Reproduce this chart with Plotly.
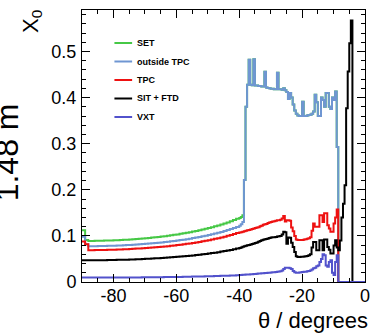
import plotly.graph_objects as go

# Cumulative material budget (in radiation lengths X0) versus polar angle.
# Barrel region: 1-degree bins from -90 to -40; forward region: 0.5-degree bins from -40 to 0.
barrel_edges = list(range(-90, -40))
forward_edges = [-40 + 0.5 * i for i in range(80)]
theta_edges = barrel_edges + forward_edges + [0.0]

vxt_barrel = [0.0095, 0.0095, 0.0095, 0.0095, 0.0095, 0.0095, 0.0096, 0.0096, 0.0096, 0.0096,
              0.0097, 0.0097, 0.0097, 0.0098, 0.0098, 0.0099, 0.0099, 0.0100, 0.0100, 0.0101,
              0.0101, 0.0102, 0.0103, 0.0104, 0.0104, 0.0105, 0.0106, 0.0107, 0.0108, 0.0109,
              0.0110, 0.0111, 0.0113, 0.0114, 0.0115, 0.0117, 0.0118, 0.0120, 0.0121, 0.0123,
              0.0125, 0.0127, 0.0129, 0.0131, 0.0133, 0.0136, 0.0138, 0.0141, 0.0143, 0.0146]
vxt_forward = [0.0150, 0.0152, 0.0155, 0.0157, 0.0160, 0.0162, 0.0165, 0.0167, 0.0170, 0.0173,
               0.0176, 0.0179, 0.0182, 0.0185, 0.0188, 0.0191, 0.0194, 0.0197, 0.0200, 0.0203,
               0.0206, 0.0210, 0.0214, 0.0218, 0.0222, 0.0228, 0.0235, 0.0250, 0.0280, 0.0310,
               0.0310, 0.0310, 0.0300, 0.0280, 0.0240, 0.0210, 0.0200, 0.0200, 0.0205, 0.0210,
               0.0215, 0.0220, 0.0225, 0.0235, 0.0240, 0.0250, 0.0270, 0.0300, 0.0310, 0.0340,
               0.0360, 0.0435, 0.0500, 0.0600, 0.0580, 0.0360, 0.0330, 0.0435, 0.0470, 0.0200,
               0.0150, 0.0435, 0.0580, 0, 0, 0, 0, 0, 0, 0,
               0, 0, 0, 0, 0, 0, 0, 0, 0, 0]

sit_ftd_barrel = [0.0470, 0.0470, 0.0470, 0.0471, 0.0471, 0.0472, 0.0473, 0.0474, 0.0475, 0.0477,
                  0.0478, 0.0480, 0.0481, 0.0483, 0.0485, 0.0488, 0.0490, 0.0493, 0.0496, 0.0499,
                  0.0502, 0.0505, 0.0509, 0.0513, 0.0517, 0.0521, 0.0525, 0.0530, 0.0535, 0.0540,
                  0.0545, 0.0551, 0.0557, 0.0564, 0.0570, 0.0577, 0.0585, 0.0592, 0.0601, 0.0609,
                  0.0618, 0.0628, 0.0637, 0.0648, 0.0659, 0.0671, 0.0683, 0.0696, 0.0709, 0.0724]
sit_ftd_forward = [0.0740, 0.0750, 0.0765, 0.0776, 0.0785, 0.0795, 0.0805, 0.0815, 0.0825, 0.0834,
                   0.0845, 0.0858, 0.0872, 0.0890, 0.0906, 0.0915, 0.0925, 0.0935, 0.0945, 0.0955,
                   0.0965, 0.0968, 0.0972, 0.0978, 0.0985, 0.0990, 0.1000, 0.1030, 0.1090, 0.1080,
                   0.0830, 0.0965, 0.0960, 0.0850, 0.0760, 0.0650, 0.0560, 0.0544, 0.0544, 0.0545,
                   0.0548, 0.0552, 0.0558, 0.0565, 0.0580, 0.0600, 0.0747, 0.0870, 0.0870, 0.0690,
                   0.0690, 0.0906, 0.0906, 0.0690, 0.0920, 0.0920, 0.0760, 0.0700, 0.0617, 0.0617,
                   0.0790, 0.0906, 0.0750, 0.0690, 0.0900, 0.1400, 0.1700, 0.2100, 0.3770, 0.4565,
                   0.5180, 0.5670, 0, 0, 0, 0, 0, 0, 0, 0]

tpc_barrel = [0.088, 0.082, 0.0691, 0.0691, 0.0692, 0.0693, 0.0694, 0.0696, 0.0698, 0.0700,
              0.0702, 0.0704, 0.0707, 0.0710, 0.0713, 0.0716, 0.0720, 0.0724, 0.0728, 0.0732,
              0.0737, 0.0742, 0.0747, 0.0752, 0.0758, 0.0765, 0.0771, 0.0778, 0.0785, 0.0793,
              0.0801, 0.0809, 0.0818, 0.0827, 0.0837, 0.0848, 0.0858, 0.0870, 0.0882, 0.0894,
              0.0907, 0.0921, 0.0936, 0.0951, 0.0967, 0.0984, 0.1002, 0.1021, 0.1041, 0.1062]
tpc_forward = [0.1075, 0.108, 0.109, 0.110, 0.111, 0.112, 0.113, 0.114, 0.115, 0.116,
               0.117, 0.118, 0.119, 0.121, 0.122, 0.124, 0.125, 0.126, 0.128, 0.129,
               0.130, 0.131, 0.132, 0.133, 0.134, 0.134, 0.135, 0.138, 0.143, 0.131,
               0.134, 0.134, 0.133, 0.118, 0.110, 0.100, 0.092, 0.091, 0.091, 0.091,
               0.091, 0.092, 0.093, 0.094, 0.095, 0.097, 0.111, 0.127, 0.120, 0.120,
               0.120, 0.145, 0.145, 0.130, 0.149, 0.149, 0.123, 0.116, 0.109, 0.109,
               0.127, 0.140, 0.157, 0, 0, 0, 0, 0, 0, 0,
               0, 0, 0, 0, 0, 0, 0, 0, 0, 0]

outside_tpc_barrel = [0.098, 0.082, 0.0776, 0.0776, 0.0777, 0.0779, 0.0780, 0.0782, 0.0784, 0.0786,
                      0.0788, 0.0791, 0.0794, 0.0797, 0.0801, 0.0804, 0.0808, 0.0813, 0.0817, 0.0822,
                      0.0827, 0.0833, 0.0839, 0.0845, 0.0852, 0.0859, 0.0866, 0.0874, 0.0882, 0.0890,
                      0.0899, 0.0909, 0.0919, 0.0929, 0.0940, 0.0952, 0.0964, 0.0977, 0.0990, 0.1004,
                      0.1019, 0.1035, 0.1051, 0.1068, 0.1087, 0.1106, 0.1126, 0.1147, 0.1170, 0.1193]
outside_tpc_forward = [0.122, 0.125, 0.130, 0.221, 0.380, 0.428, 0.482, 0.428, 0.427, 0.483,
                       0.426, 0.426, 0.425, 0.425, 0.424, 0.424, 0.456, 0.422, 0.421, 0.420,
                       0.419, 0.419, 0.418, 0.418, 0.454, 0.418, 0.418, 0.417, 0.420, 0.416,
                       0.412, 0.397, 0.410, 0.400, 0.385, 0.372, 0.365, 0.361, 0.360, 0.360,
                       0.391, 0.360, 0.360, 0.361, 0.362, 0.363, 0.365, 0.370, 0.406, 0.390,
                       0.360, 0.360, 0.400, 0.395, 0.380, 0.410, 0.410, 0.380, 0.375, 0.400,
                       0.395, 0.413, 0.293, 0, 0, 0, 0, 0, 0, 0,
                       0, 0, 0, 0, 0, 0, 0, 0, 0, 0]

set_barrel = [0.112, 0.091, 0.0891, 0.0892, 0.0893, 0.0894, 0.0896, 0.0898, 0.0900, 0.0902,
              0.0905, 0.0908, 0.0912, 0.0915, 0.0919, 0.0924, 0.0928, 0.0933, 0.0939, 0.0944,
              0.0950, 0.0957, 0.0963, 0.0971, 0.0978, 0.0986, 0.0994, 0.1003, 0.1013, 0.1023,
              0.1033, 0.1044, 0.1055, 0.1067, 0.1080, 0.1093, 0.1107, 0.1122, 0.1137, 0.1153,
              0.1170, 0.1188, 0.1207, 0.1227, 0.1248, 0.1270, 0.1293, 0.1317, 0.1343, 0.1370]
set_forward_head = [0.139, 0.141, 0.145]
# Past the barrel the SET adds nothing, so its running total follows the outside-TPC curve.
set_forward = set_forward_head + outside_tpc_forward[len(set_forward_head):]

series_names = ["SET", "outside TPC", "TPC", "SIT + FTD", "VXT"]
series_colors = ["#46c846", "#6f96d2", "#ee1111", "#000000", "#5252cc"]
series_values = [
    set_barrel + set_forward,
    outside_tpc_barrel + outside_tpc_forward,
    tpc_barrel + tpc_forward,
    sit_ftd_barrel + sit_ftd_forward,
    vxt_barrel + vxt_forward,
]

x_tick_values = [-80, -60, -40, -20, 0]
x_tick_labels = ["-80", "-60", "-40", "-20", "0"]
y_tick_values = [0, 0.1, 0.2, 0.3, 0.4, 0.5]
y_tick_labels = ["0", "0.1", "0.2", "0.3", "0.4", "0.5"]

FONT = "Liberation Sans, Arial, Helvetica, sans-serif"
W, H = 378, 334
ML, MR, MT, MB = 82, 8, 10, 52
PW, PH = W - ML - MR, H - MT - MB


def px_to_paper(px, py):
    return (px - ML) / PW, (H - MB - py) / PH


fig = go.Figure()
for name, color, vals in zip(series_names, series_colors, series_values):
    assert len(vals) == len(theta_edges) - 1, name
    fig.add_trace(go.Scatter(
        x=theta_edges,
        y=vals + [vals[-1]],
        mode="lines",
        line=dict(color=color, width=2, shape="hv"),
        name=name,
        showlegend=False,
        hoverinfo="skip",
    ))

# Legend: short line samples with bold labels in the upper left of the frame
legend_rows_y = [43, 61.5, 80, 98.5, 117]
for name, color, ry in zip(series_names, series_colors, legend_rows_y):
    x0, y0 = px_to_paper(115, ry)
    x1, _ = px_to_paper(133, ry)
    fig.add_shape(type="line", xref="paper", yref="paper", x0=x0, x1=x1, y0=y0, y1=y0,
                  line=dict(color=color, width=2))
    tx, ty = px_to_paper(136, ry)
    fig.add_annotation(xref="paper", yref="paper", x=tx, y=ty, xanchor="left", yanchor="middle",
                       text="<b>%s</b>" % name, showarrow=False,
                       font=dict(family=FONT, size=9, color="black"))

# Axis titles
tx, ty = px_to_paper(375, 335)
fig.add_annotation(xref="paper", yref="paper", x=tx, y=ty, xanchor="right", yanchor="bottom",
                   text="θ / degrees", showarrow=False,
                   font=dict(family=FONT, size=22, color="black"))
tx, ty = px_to_paper(31, 21)
fig.add_annotation(xref="paper", yref="paper", x=tx, y=ty, xanchor="center", yanchor="middle",
                   text="X<sub>0</sub>", textangle=-90, showarrow=False,
                   font=dict(family=FONT, size=22, color="black"))
tx, ty = px_to_paper(6, 152)
fig.add_annotation(xref="paper", yref="paper", x=tx, y=ty, xanchor="center", yanchor="middle",
                   text="1.48 m", textangle=-90, showarrow=False,
                   font=dict(family=FONT, size=32, color="black"))

axis_common = dict(
    ticks="inside", ticklen=8, tickwidth=1, tickcolor="black",
    showline=True, linecolor="black", linewidth=1, mirror="allticks",
    showgrid=False, zeroline=False,
    tickfont=dict(family=FONT, size=18, color="black"),
)
fig.update_xaxes(
    range=[-90, 0], tickmode="array", tickvals=x_tick_values, ticktext=x_tick_labels,
    minor=dict(tickmode="linear", tick0=0, dtick=5, ticks="inside", ticklen=4, tickcolor="black"),
    ticklabelstandoff=-3,
    **axis_common,
)
fig.update_yaxes(
    range=[0, 0.59], tickmode="array", tickvals=y_tick_values, ticktext=y_tick_labels,
    minor=dict(tickmode="linear", tick0=0, dtick=0.02, ticks="inside", ticklen=4, tickcolor="black"),
    ticklabelstandoff=1,
    **axis_common,
)
fig.update_layout(
    width=W, height=H,
    margin=dict(l=ML, r=MR, t=MT, b=MB),
    paper_bgcolor="white", plot_bgcolor="white",
    showlegend=False,
)
fig.write_html("out.html")
